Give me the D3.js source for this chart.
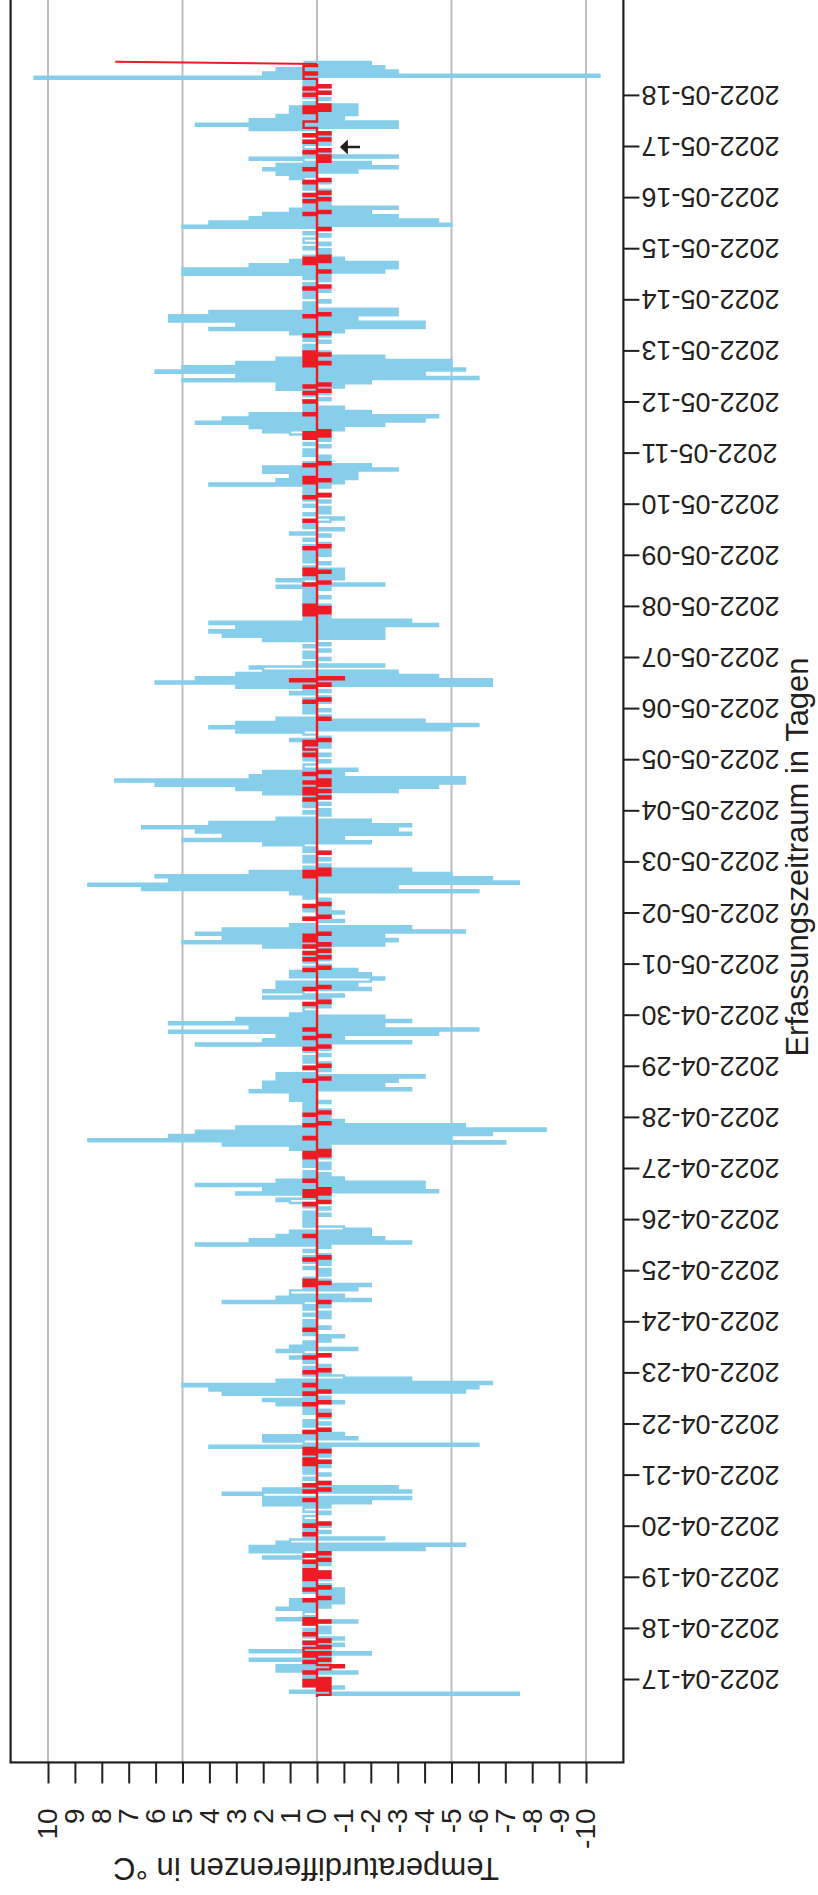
<!DOCTYPE html>
<html>
<head>
<meta charset="utf-8">
<script src="https://cdn.jsdelivr.net/npm/d3@7"></script>
<style>
  body { margin: 0; background: #fff; }
  text { font-family: "Liberation Sans", Arial, Helvetica, sans-serif; fill: #231f20; }
</style>
</head>
<body>
<svg id="chart" width="818" height="1895"></svg>
<script>
// one entry per day, hourly values; the first day starts at 16:00
var days = ["2022-04-16","2022-04-17","2022-04-18","2022-04-19","2022-04-20","2022-04-21","2022-04-22",
  "2022-04-23","2022-04-24","2022-04-25","2022-04-26","2022-04-27","2022-04-28","2022-04-29","2022-04-30",
  "2022-05-01","2022-05-02","2022-05-03","2022-05-04","2022-05-05","2022-05-06","2022-05-07","2022-05-08",
  "2022-05-09","2022-05-10","2022-05-11","2022-05-12","2022-05-13","2022-05-14","2022-05-15","2022-05-16",
  "2022-05-17","2022-05-18"];
var firstHour = 16;

// light blue series
var blueByDay = [
  [0,-7.5,1,-0.5,-1,0.5,0,-0.5],
  [0.5,0,0.5,-1.5,1.5,-0.5,1.5,-0.5,0.5,2.5,-0.5,0.5,-2,2.5,-0.5,0.5,-1,0.5,0,-1,0.5,0,-0.5,0.5],
  [-0.5,0,0.5,-1.5,1.5,0,0.5,0.5,0,1.5,-0.5,1,-1,1,-1,0,-1,0.5,-1,0.5,-0.5,0.5,0,-0.5],
  [0.5,0,-0.5,0.5,0,0.5,-0.5,0,0.5,2,-0.5,0.5,2.5,-4,2.5,-5.5,1.5,1,-2.5,0.5,0,-0.5,0.5,0],
  [-0.5,0.5,0,0.5,0.5,0,-0.5,0.5,0.5,-0.5,2,-2,2,-3.5,2,3.5,-3.5,2,-3,0.5,-0.5,0,0.5,0],
  [-0.5,0.5,0,0.5,-0.5,0.5,-0.5,0,0.5,-0.5,0.5,0,-0.5,4,-6,0.5,2,-1.5,2,-1,0.5,-0.5,0,0.5],
  [-0.5,0.5,0,-0.5,0,0.5,-0.5,0.5,0,1.5,-1,2,-0.5,0.5,3.5,-5.5,4,-6,5,-6.5,1.5,-3.5,-1,0.5],
  [-0.5,0,0.5,-0.5,0,0.5,0,1,-0.5,0.5,1.5,-1.5,1,0,0.5,-0.5,0,-1,0.5,0,0.5,-0.5,0.5,0],
  [0.5,0,-0.5,0.5,-0.5,0,0.5,-0.5,0.5,3.5,-2,1.5,-1,1,1,-1.5,0.5,-2,0.5,-0.5,0.5,0,-0.5,0],
  [-0.5,0.5,0,-0.5,0.5,-0.5,0.5,-0.5,0,0.5,0,-0.5,4.5,-3.5,2.5,-2.5,1.5,-2,1,-2,-1,0.5,0,0.5],
  [0,0.5,-0.5,0.5,0,-0.5,0.5,0,1,1.5,-0.5,0.5,3,-4.5,2,-4,4.5,-4,1.5,-1,0.5,-0.5,0.5,0],
  [-0.5,0.5,-0.5,0.5,0,-0.5,0.5,0,-0.5,1,-0.5,3.5,-7,8.5,-5,5.5,-6.5,4.5,-8.5,3,-5.5,0.5,-1,0.5],
  [-0.5,0,0.5,-0.5,0.5,0,0.5,-0.5,1,0,1,0,2.5,-3.5,2,-2.5,2,-3,1.5,-4,1.5,0,-0.5,0.5],
  [0,-0.5,0.5,0,0.5,-0.5,0,0.5,-0.5,0,4.5,-3.5,2,-1,1.5,-4.5,5.5,-6,2.5,-2.5,5.5,-3.5,3,-2.5],
  [1,0,0.5,0.5,-0.5,0.5,0,-0.5,2,-1,0.5,2,-2,1.5,-1.5,1.5,-2,-2.5,1,-2,1,-1.5,0.5,-0.5],
  [0,0.5,-0.5,0.5,-0.5,0.5,0,-0.5,2,-2.5,5,-3,3.5,-2.5,4.5,-5.5,3.5,-3.5,1,0,-1,0.5,-0.5,0],
  [-1,0.5,-0.5,0.5,-0.5,0,-0.5,0.5,0,1,-6,6.5,-3,8.5,-7.5,5.5,-6.5,6,-5,2.5,-3.5,0.5,-0.5,0],
  [0.5,-0.5,0.5,0,-0.5,0.5,0,0.5,2,-2,5,-1,3.5,-3.5,4.5,-3,6.5,-3.5,4,-2,1.5,0,-0.5,0.5],
  [-0.5,0,0.5,-0.5,0.5,0,0.5,-0.5,2,-3,3,-4.5,6,-5.5,7.5,-5.5,2.5,-1,2,-1.5,0.5,0.5,0,-0.5],
  [0.5,0,-0.5,0.5,0,0.5,-0.5,0.5,-0.5,1,-0.5,0,0.5,3,-5,4,-6,3,-4,1.5,-0.5,0,0.5,-0.5],
  [0.5,0,0.5,-0.5,0.5,-0.5,0,1,-0.5,0.5,3,-6.5,6,-6.5,4.5,-4.5,3,-3,2,2.5,-2.5,0.5,0,-0.5],
  [0.5,0,0.5,-0.5,0,0.5,-0.5,0,2,-2.5,3.5,-2.5,4,-2.5,3,-4.5,4,-3.5,0.5,-0.5,0.5,0,-0.5,0.5],
  [-0.5,0.5,0,0.5,-0.5,0.5,0,0.5,-0.5,1.5,-2.5,0.5,1.5,-1,0.5,-1,0,-1,0.5,0,-0.5,0.5,0,0.5],
  [-0.5,0.5,-0.5,0,0.5,-0.5,0,0.5,0,-0.5,1,0,-1,0.5,0,0.5,-0.5,-1,0,0.5,-0.5,0,-0.5,0.5],
  [0,-0.5,0.5,0,-0.5,0.5,0,0.5,-0.5,4,-1,1.5,-1.5,1,-1.5,2,-3,2,-2,0.5,-0.5,0,-0.5,0.5],
  [0,0.5,0,-0.5,0.5,0,-0.5,0.5,0,1,2,-1,2.5,-2.5,4.5,-4,3.5,-4.5,2.5,-2,0.5,-1,0.5,0],
  [0.5,-0.5,0,0.5,-0.5,0,1.5,-1,1.5,-2,5,-6,3,-4,6,-5.5,5,-5,3,-5,1.5,-2.5,0.5,-0.5],
  [0.5,0,0.5,0,-0.5,0.5,0,-0.5,1,-1,4,-4,3,-4,5.5,-1.5,5.5,-3,4,-3,0.5,0,0.5,-0.5],
  [0,0.5,0,0.5,-0.5,0.5,0,0.5,0,-0.5,0.5,-0.5,5,-2.5,5,-3,2.5,-3,1,-1,0.5,-0.5,0,-0.5],
  [0.5,0,-0.5,0.5,0.5,0,-0.5,0.5,0,-0.5,5,-5,4,-4.5,2.5,-3,2,-2,1,-3,0.5,-0.5,0,0.5],
  [-0.5,0.5,0,-0.5,0.5,0,0.5,-0.5,0.5,1,0,1.5,-1.5,2,-3,1.5,-2,0.5,2.5,-3,0.5,-0.5,0,0.5],
  [0.5,-0.5,0.5,0,-0.5,0.5,-0.5,0,2.5,-3,4.5,-3,2.5,-1,1.5,-1.5,1,-1.5,1,-1.5,0.5,0,-0.5,0.5],
  [0,-0.5,0.5,0,-0.5,0.5,0,0.5,10.5,-10.5,2,-3,1.5,-2.5,0.5,-2,0.5]
];

// red series
var redByDay = [
  [0,-0.5,-0.5,0,-0.5,0.5,-0.5,0.5],
  [-0.5,0,0,0.5,0,-0.5,-1,0,0.5,-0.5,0,0.5,-0.5,0.5,0.5,-0.5,0,0.5,-0.5,0,0,0.5,0,0],
  [0,0,0.5,-0.5,0.5,0,0,0,0,0,0,0,0,0.5,-0.5,0,0,0,0.5,-0.5,0,0,0,0.5],
  [-0.5,0.5,-0.5,0.5,0,0,0,0.5,-0.5,0,0.5,-0.5,0,0,0,0,0,0,0,0,0.5,0,0,0],
  [0.5,-0.5,0,0,0,0,0,0,0,0,0,0,0.5,0,0,0,0.5,-0.5,0,0.5,-0.5,0,0,0],
  [0,0,0,0,0,0.5,-0.5,0.5,0,0,0.5,-0.5,0.5,0,0,0,0,0,0,0,0.5,-0.5,0,0],
  [0,0,0,0,-0.5,0,0,0,0,0.5,-0.5,0,0,0,0.5,-0.5,0,0,0.5,0,0,0,0,0],
  [0.5,-0.5,0,0,0,0,0,0.5,-0.5,0,0,0,0,0,0,0,0,0,0,0,0.5,0,0,0],
  [0,0,0,0,0,0,0,0,0,-0.5,0,0,0,0,0,0,0,0.5,-0.5,0.5,0,0,0,0],
  [0,0,0,0,0,0.5,-0.5,0,0,0,0,0,0,0,0,0,0.5,0,0,0,0,0,0,0],
  [0,0,0,0,0,0,0,0.5,-0.5,0,0,0.5,-0.5,0.5,-0.5,0,0,0,0.5,0,0,0,0,0],
  [0,0,0,0,0,0.5,-0.5,0.5,-0.5,0,0,0,0,0,0.5,0,0,0,0,0,0.5,-0.5,0,0],
  [0,0.5,-0.5,0,0,0,0,0,0,0,0,0,0,0,0,0,0,0.5,-0.5,0,0,0,0,0.5],
  [-0.5,0,0,0,0,0,0,0,0.5,-0.5,0,0,0,0.5,-0.5,0,0,0.5,0,0,0,0,0,0],
  [0,0,0,0,0,0.5,-0.5,0,0,0,0,0,0.5,-0.5,0,0,0,0,0,0,0,0.5,-0.5,0],
  [0,0,0.5,-0.5,0,0.5,-0.5,0,0.5,-0.5,0,0.5,0,0.5,-0.5,0,0,0,0,0,0,0.5,-0.5,0],
  [0,0,0,0.5,-0.5,0,0,0,0,0,0,0,0,0,0,0,0,0.5,-0.5,0.5,-0.5,0,0,0],
  [0,0,0,0,-0.5,0,0,0,0,0,0,0,0,0,0,0,0,0,0,0,0,0,0,0],
  [0,0,0,0,0,0.5,-0.5,0,0.5,-0.5,0.5,0,-0.5,0.5,-0.5,0,0,0.5,-0.5,0,0,0,0,0],
  [0,0,0.5,0,0,0.5,0.5,0,0.5,-0.5,0,0,0,0,0,0,0,0,0,-0.5,0,0,0,0],
  [0,0,0,0.5,-0.5,0,0,0,0,0,0.5,-0.5,0,1,-1,0,0,0,0,0,0,0,0,0],
  [0,0,0,0,0,0,0,0,0,0,0,0,0,0,0,0,0,0,0,0,0.5,-0.5,0.5,-0.5],
  [0.5,0,0,0,0,0,0,0,0,0,0.5,-0.5,0,0,0,0.5,-0.5,0.5,0,0,0,0,0,0],
  [0,0,0,0.5,-0.5,0,0,0,0,0,0,0,0,0,0,0,0.5,0,0,0,0,0,0,0],
  [0,0,0,0.5,-0.5,0,0,0,0,0,0.5,-0.5,0.5,0,0,0,0,0,0.5,-0.5,0,0,0,0],
  [0,0,0,0,0,0,0,0.5,-0.5,0.5,-0.5,0,0,0,0,0,0,0,0.5,0,0,0,0,0],
  [0.5,0,0,0,0.5,-0.5,0,0.5,-0.5,0,0,0,0,0,0,0,0,0.5,-0.5,0.5,0,0.5,-0.5,0.5],
  [0,0,0,0,0,0,0,0.5,-0.5,0,0,0,0,0,0,0,0.5,-0.5,0,0,0,0,0,0],
  [0,0,0,0,0,0.5,-0.5,0,0,0,0,0,0,-0.5,0,0,0,0.5,-0.5,0.5,-0.5,0,0,0],
  [0,0,0,0,0,0,0,0,0,-0.5,0,0,0,0,0,0,0.5,-0.5,0,0,0,0,0.5,-0.5],
  [0,0.5,-0.5,0,0,0,0,0.5,-0.5,0,0,0,0,0.5,0,0,0,-0.5,0,-0.5,0,0.5,-0.5,0],
  [0,0,0.5,-0.5,0,0.5,-0.5,0,0,0.5,0.5,0.5,0,0,0,0,0.5,-0.5,0.5,-0.5,0,0,0,0],
  [0.5,-0.5,0,0.5,-0.5,0,0,0,0.5,0.5,0,0.5,0.5,0.5,0,0,7.5]
];

var valueTicks = [10,9,8,7,6,5,4,3,2,1,0,-1,-2,-3,-4,-5,-6,-7,-8,-9,-10];
var gridValues = [10,5,0,-5,-10];
var tickDays = ["2022-04-17","2022-05-18"];
var arrowNote = { day: "2022-05-17", from: -1.6, to: -0.85 };
var yLabel = "Temperaturdifferenzen in °C";
var xLabel = "Erfassungszeitraum in Tagen";

// the chart is drawn in its own frame, then turned a quarter to the left
var W = 1895, H = 818;
var parseDay = d3.timeParse("%Y-%m-%d");

function flatten(byDay) {
  var out = [];
  byDay.forEach(function (vals, i) {
    var base = parseDay(days[i]);
    vals.forEach(function (v, j) {
      out.push({ t: d3.timeHour.offset(base, (i == 0 ? firstHour : 0) + j), v: v });
    });
  });
  return out;
}
var blue = flatten(blueByDay);
var red = flatten(redByDay);

var x = d3.scaleTime()
  .domain(tickDays.map(parseDay))
  .range([215, 1799.1]);
var y = d3.scaleLinear().domain([10, -10]).range([48, 586]);

var tExt = d3.extent(blue, function (d) { return d.t; });
var pad = (tExt[1] - tExt[0]) * 0.04;
var bx0 = x(new Date(+tExt[0] - pad)), bx1 = x(new Date(+tExt[1] + pad));
var by0 = y(11.39), by1 = y(-11.39);

var svg = d3.select("#chart");
var g = svg.append("g").attr("transform", "translate(0," + W + ") rotate(-90)");

// grid
g.append("g")
  .selectAll("line")
  .data(gridValues)
  .enter()
  .append("line")
  .attr("x1", bx0).attr("x2", bx1)
  .attr("y1", function (d) { return y(d); })
  .attr("y2", function (d) { return y(d); })
  .style("stroke", "#bebebe")
  .style("stroke-width", "2px");

var line = d3.line()
  .curve(d3.curveStepAfter)
  .x(function (d) { return x(d.t); })
  .y(function (d) { return y(d.v); });

g.append("path")
  .datum(blue)
  .attr("d", line)
  .style("fill", "none")
  .style("stroke", "#87ceeb")
  .style("stroke-width", "2.4px");

// the red one ends with a plain slope to its last value
var redLine = d3.line()
  .x(function (d) { return x(d.t); })
  .y(function (d) { return y(d.v); });
g.append("path")
  .datum(red.slice(0, red.length - 1))
  .attr("d", line)
  .style("fill", "none")
  .style("stroke", "#ed1c24")
  .style("stroke-width", "2.4px");
g.append("path")
  .datum(red.slice(red.length - 2))
  .attr("d", redLine)
  .style("fill", "none")
  .style("stroke", "#ed1c24")
  .style("stroke-width", "2px");

// arrow note
var ax = x(parseDay(arrowNote.day));
var ay0 = y(arrowNote.from), ay1 = y(arrowNote.to);
g.append("line")
  .attr("x1", ax).attr("x2", ax)
  .attr("y1", ay0).attr("y2", ay1 + 5)
  .style("stroke", "#231f20")
  .style("stroke-width", "2.5px");
g.append("path")
  .attr("d", "M" + ax + "," + ay1 + "L" + (ax - 7.5) + "," + (ay1 + 8) + "L" + (ax + 7.5) + "," + (ay1 + 8) + "Z")
  .style("fill", "#231f20");

// frame
g.append("rect")
  .attr("x", bx0).attr("y", by0)
  .attr("width", bx1 - bx0).attr("height", by1 - by0)
  .style("fill", "none")
  .style("stroke", "#231f20")
  .style("stroke-width", "2.2px");

// value axis
var ya = g.append("g")
  .attr("transform", "translate(" + bx0 + ",0)")
  .call(d3.axisLeft(y).tickValues(valueTicks).tickSize(21).tickPadding(25)
    .tickFormat(function (d) { return String(d); }));
ya.select(".domain").remove();
ya.selectAll("line").style("stroke", "#231f20").style("stroke-width", "2px");
ya.selectAll("text")
  .style("font-size", "28px")
  .style("font-family", "Liberation Sans, Arial, sans-serif")
  .style("fill", "#231f20");

// time axis
var xa = g.append("g")
  .attr("transform", "translate(0," + by1 + ")")
  .call(d3.axisBottom(x).ticks(d3.timeDay.every(1)).tickSize(16).tickFormat(d3.timeFormat("%Y-%m-%d")));
xa.select(".domain").remove();
xa.selectAll("line").style("stroke", "#231f20").style("stroke-width", "2px");
xa.selectAll("text")
  .attr("transform", "rotate(-90)")
  .attr("text-anchor", "end")
  .attr("x", -18)
  .attr("y", 0)
  .attr("dy", "0.35em")
  .style("font-size", "27px")
  .style("font-family", "Liberation Sans, Arial, sans-serif")
  .style("fill", "#231f20");

// titles
g.append("text")
  .attr("transform", "translate(37," + ((by0 + by1) / 2 - 11) + ") rotate(-90)")
  .attr("text-anchor", "middle")
  .style("font-size", "31px")
  .text(yLabel);

g.append("text")
  .attr("x", W - 857)
  .attr("y", 808)
  .attr("text-anchor", "middle")
  .style("font-size", "31px")
  .text(xLabel);
</script>
</body>
</html>
